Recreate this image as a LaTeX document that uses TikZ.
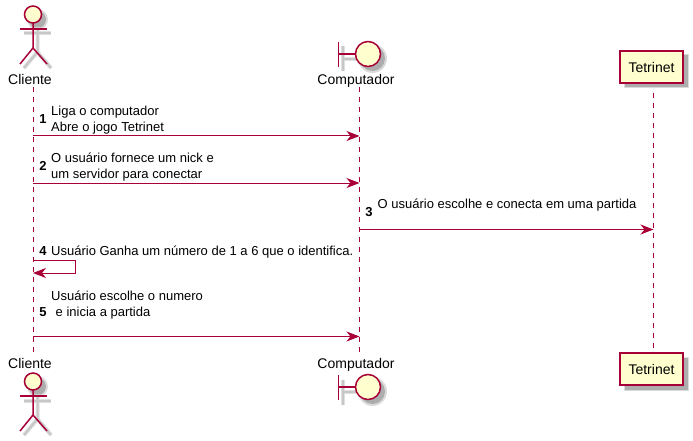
\documentclass[tikz,border=0pt]{standalone}
\usepackage{fontspec}
\setmainfont{Liberation Sans}
\usepackage{xcolor}
\usetikzlibrary{arrows.meta,positioning,calc}
\definecolor{umlline}{HTML}{A80036}
\definecolor{umlfill}{HTML}{FEFECE}

\begin{document}
\begin{tikzpicture}[
    x=1pt, y=-1pt,
    font=\fontsize{13}{15}\selectfont,
    lane/.style={draw=umlline, line width=0.9pt, dash pattern=on 5pt off 5pt},
    msg/.style={draw=umlline, line width=1pt, -{Stealth[length=13pt, width=10pt, inset=4pt]}},
    who/.style={font=\fontsize{14}{16}\selectfont, inner sep=0pt, text height=10pt, text depth=3pt},
    txt/.style={anchor=west, inner sep=0pt, align=left, text height=9.5pt, text depth=3pt},
    num/.style={anchor=center, inner sep=0pt, font=\fontsize{13}{15}\selectfont\bfseries},
    part/.style={draw=umlline, fill=umlfill, line width=1.3pt, minimum width=63pt, minimum height=32pt, inner sep=0pt, font=\fontsize{14}{16}\selectfont},
    limb/.style={draw=umlline, line width=1.5pt},
    head/.style={draw=umlline, fill=umlfill, line width=1.5pt},
    ghost/.style={draw=black!12, line width=4pt},
    ghostcore/.style={draw=black!22, line width=2pt},
    ghostfill/.style={fill=black!14},
    ghostbox/.style={fill=black!32},
  ]
    \useasboundingbox (0,0) rectangle (693,441);
    % lifelines
    \coordinate (cliT) at (33,87);
    \coordinate (cliB) at (33,352);
    \coordinate (comT) at (359.5,87);
    \coordinate (comB) at (359.5,352);
    \coordinate (tetT) at (653.5,83);
    \coordinate (tetB) at (653.5,353);
    \draw[lane] (cliT) -- (cliB);
    \draw[lane] (comT) -- (comB);
    \draw[lane] (tetT) -- (tetB);
    % actor top and bottom
    \foreach \oy in {0,367}{
      \begin{scope}[shift={(0,\oy)}]
        \fill[ghostfill] (37.5,19.5) circle (10.5);
        \fill[black!32] (37.5,19.5) circle (8.5);
        \draw[ghost] (24,33.5) -- (51,33.5);
        \draw[ghost] (37.5,27) -- (37.5,52) -- (24,68);
        \draw[ghost] (37.5,52) -- (51,68);
        \draw[ghostcore] (24,33.5) -- (51,33.5);
        \draw[ghostcore] (37.5,27) -- (37.5,52) -- (24,68);
        \draw[ghostcore] (37.5,52) -- (51,68);
        \node[head, circle, minimum size=17pt, inner sep=0pt] (head\oy) at (33,14.5) {};
        \coordinate (neck\oy) at (33,23);
        \coordinate (hip\oy) at (33,48);
        \draw[limb] (20,29) -- (47,29);
        \draw[limb] (neck\oy) -- (hip\oy) -- (20,64);
        \draw[limb] (hip\oy) -- (47,64);
      \end{scope}
    }
    % boundary top and bottom
    \foreach \oy in {0,333}{
      \begin{scope}[shift={(0,\oy)}]
        \fill[ghostfill] (372.5,58.5) circle (14.5);
        \fill[black!32] (372.5,58.5) circle (12.5);
        \draw[ghost] (342.5,46.5) -- (342.5,71.5);
        \draw[ghost] (342.5,59) -- (360,59);
        \draw[ghostcore] (342.5,46.5) -- (342.5,71.5);
        \draw[ghostcore] (342.5,59) -- (360,59);
        \draw[limb] (338.5,42) -- (338.5,67);
        \draw[limb] (338.5,54) -- (355.5,54);
        \node[head, circle, minimum size=25pt, inner sep=0pt] (bnd\oy) at (368,54) {};
      \end{scope}
    }
    % participant shadows
    \fill[ghostfill] (623.5,54.5) rectangle (689,88.5);
    \fill[ghostfill] (623.5,356.5) rectangle (689,390.5);
    \fill[ghostbox] (624.5,55.5) rectangle (688,87.5);
    \fill[ghostbox] (624.5,357.5) rectangle (688,389.5);
    \node[part] (tetTop) at (651.5,67) {\raisebox{-1pt}{Tetrinet}};
    \node[part] (tetBot) at (651.5,369) {\raisebox{-1pt}{Tetrinet}};
    \node[who] (cliTop) at (30,81) {Cliente};
    \node[who] (comTop) at (356,81) {Computador};
    \node[who] (cliBot) at (30,364.5) {Cliente};
    \node[who] (comBot) at (356,364.5) {Computador};
    % messages
    \coordinate (m1a) at (33,136);
    \coordinate (m1b) at (359.5,136);
    \coordinate (m2a) at (33,183);
    \coordinate (m2b) at (359.5,183);
    \coordinate (m3a) at (359.5,229.5);
    \coordinate (m3b) at (653.5,229.5);
    \coordinate (m4a) at (33,260);
    \coordinate (m4c) at (75.5,260);
    \coordinate (m4d) at (75.5,273);
    \coordinate (m4b) at (33,273);
    \coordinate (m5a) at (33,336.5);
    \coordinate (m5b) at (359.5,336.5);
    \draw[msg] (m1a) -- (m1b);
    \draw[msg] (m2a) -- (m2b);
    \draw[msg] (m3a) -- (m3b);
    \draw[msg] (m4a) -- (m4c) -- (m4d) -- (m4b);
    \draw[msg] (m5a) -- (m5b);
    % labels
    \node[num] (n1) at (43,119) {1};
    \node[txt] (t1a) at (51,112) {Liga o computador};
    \node[txt] (t1b) at (51,128) {Abre o jogo Tetrinet};
    \node[num] (n2) at (43,166) {2};
    \node[txt] (t2a) at (51,159) {O usuário fornece um nick e};
    \node[txt] (t2b) at (51,175) {um servidor para conectar};
    \node[num] (n3) at (369,212.5) {3};
    \node[txt] (t3) at (377.5,205.5) {O usuário escolhe e conecta em uma partida};
    \node[num] (n4) at (43,251) {4};
    \node[txt] (t4) at (51,252) {Usuário Ganha um número de 1 a 6 que o identifica.};
    \node[txt] (t5a) at (51,297) {Usuário escolhe o numero};
    \node[num] (n5) at (43,312) {5};
    \node[txt] (t5b) at (55.5,313) {e inicia a partida};
\end{tikzpicture}
\end{document}
